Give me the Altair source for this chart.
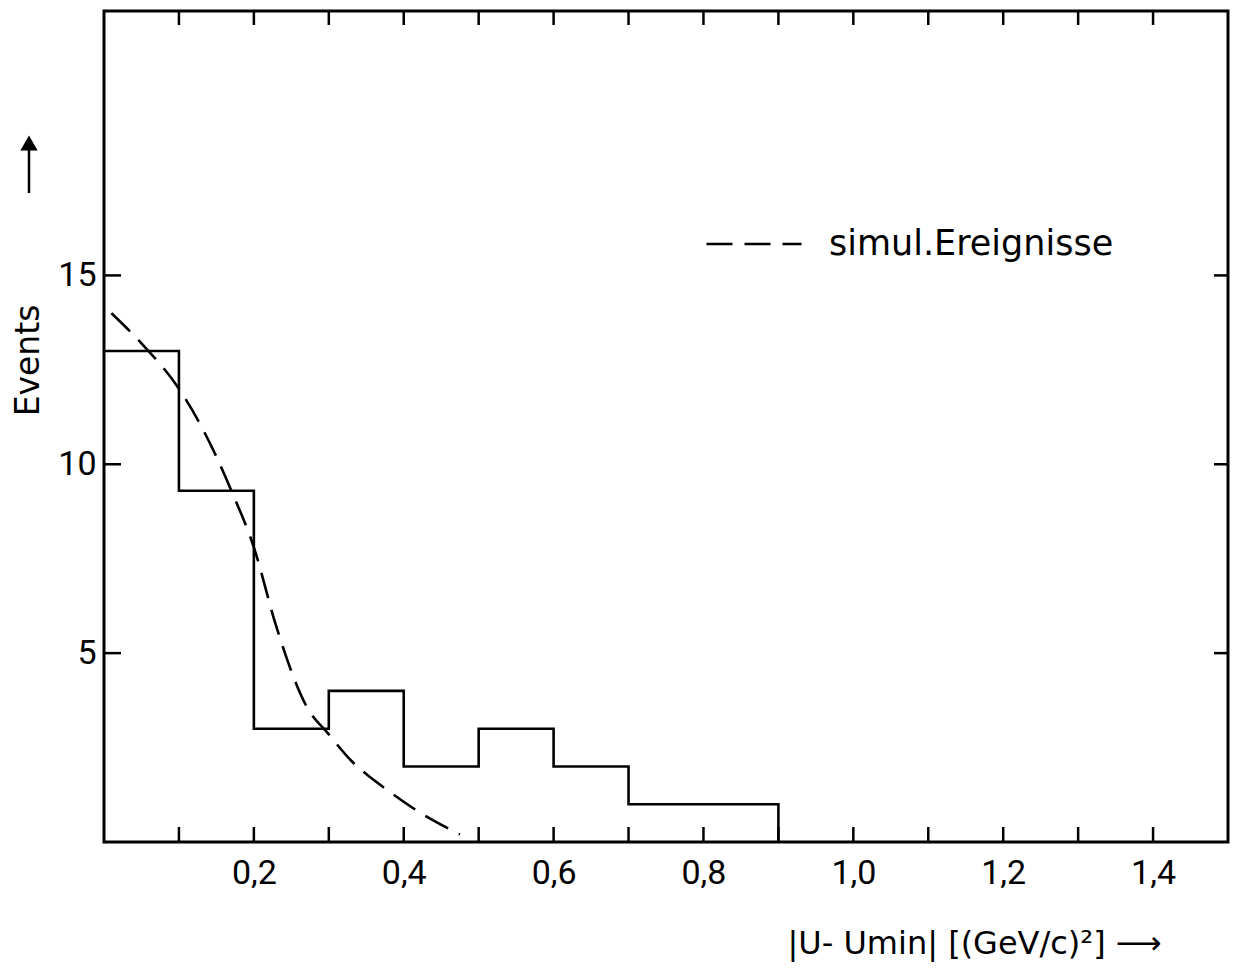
import altair as alt
import pandas as pd

# Histogram (bin left edges and event counts)
bin_edges = [0.0, 0.1, 0.2, 0.3, 0.4, 0.5, 0.6, 0.7, 0.8, 0.9]
counts = [13, 9.3, 3, 4, 2, 3, 2, 1, 1]

# Simulated events (dashed curve)
sim_x = [0.01, 0.05, 0.1, 0.13, 0.15, 0.17, 0.2, 0.23, 0.27, 0.3, 0.33, 0.355, 0.375, 0.42, 0.475]
sim_y = [14.0, 13.2, 12.0, 11.0, 10.2, 9.3, 7.8, 5.7, 3.6, 2.85, 2.15, 1.72, 1.42, 0.8, 0.2]

x_ticks = [0.1, 0.2, 0.3, 0.4, 0.5, 0.6, 0.7, 0.8, 0.9, 1.0, 1.1, 1.2, 1.3, 1.4]
x_labels = [0.2, 0.4, 0.6, 0.8, 1.0, 1.2, 1.4]
y_ticks = [5, 10, 15]

W, H = 1124, 831
FONT = "Roboto"
TFONT = "DejaVu Sans"

hist_df = pd.DataFrame({"x": bin_edges, "y": counts + [0]})
sim_df = pd.DataFrame({"x": sim_x, "y": sim_y, "series": ["simul.Ereignisse"] * len(sim_x)})
xt_df = pd.DataFrame({"t": x_ticks})
yt_df = pd.DataFrame({"t": y_ticks})

xscale = alt.Scale(domain=[0, 1.5], nice=False, zero=True)
yscale = alt.Scale(domain=[0, 22], nice=False, zero=True)

x_axis = alt.Axis(
    values=x_labels,
    labelExpr="replace(format(datum.value, '.1f'), '.', ',')",
    domain=False, ticks=False, grid=False,
    labelFontSize=34, labelFont=FONT, labelColor="black", labelPadding=14,
    title="|U- Umin| [(GeV/c)²]   ⟶",
    titleFontSize=32, titleFont=TFONT, titleFontWeight="normal", titleColor="black",
    titleAnchor="start", titleAlign="left", titleX=683, titleY=101, titleBaseline="middle",
)
y_axis = alt.Axis(
    values=y_ticks,
    domain=False, ticks=False, grid=False,
    labelFontSize=34, labelFont=FONT, labelColor="black", labelPadding=8,
    title="Events",
    titleFontSize=33, titleFont=TFONT, titleFontWeight="normal", titleColor="black",
    titleAngle=270, titleX=-76, titleY=349, titleAlign="center", titleBaseline="middle",
)

hist = alt.Chart(hist_df).mark_line(
    interpolate="step-after", color="black", strokeWidth=2.6
).encode(
    x=alt.X("x:Q", scale=xscale, axis=x_axis),
    y=alt.Y("y:Q", scale=yscale, axis=y_axis),
)

sim = alt.Chart(sim_df).mark_line(
    interpolate="monotone", color="black", strokeWidth=2.6
).encode(
    x=alt.X("x:Q", scale=xscale),
    y=alt.Y("y:Q", scale=yscale),
    strokeDash=alt.StrokeDash(
        "series:N",
        scale=alt.Scale(range=[[26, 12]]),
        legend=alt.Legend(
            title=None, orient="none", legendX=601, legendY=184,
            symbolType="stroke", symbolSize=9025, symbolStrokeWidth=2.6,
            symbolStrokeColor="black", symbolDash=[24, 11],
            labelFontSize=35, labelFont=TFONT, labelColor="black", labelOffset=26,
            labelLimit=0, padding=0,
        ),
    ),
)

tick_bottom = alt.Chart(xt_df).mark_rule(color="black", strokeWidth=2.5).encode(
    x=alt.X("t:Q", scale=xscale), y=alt.value(H), y2=alt.value(H - 15)
)
tick_top = alt.Chart(xt_df).mark_rule(color="black", strokeWidth=2.5).encode(
    x=alt.X("t:Q", scale=xscale), y=alt.value(0), y2=alt.value(14)
)
tick_left = alt.Chart(yt_df).mark_rule(color="black", strokeWidth=2.5).encode(
    y=alt.Y("t:Q", scale=yscale), x=alt.value(0), x2=alt.value(17)
)
tick_right = alt.Chart(yt_df).mark_rule(color="black", strokeWidth=2.5).encode(
    y=alt.Y("t:Q", scale=yscale), x=alt.value(W), x2=alt.value(W - 14)
)

arrow_df = alt.Data(values=[{}])
arrow_shaft = alt.Chart(arrow_df).mark_rule(color="black", strokeWidth=2.5).encode(
    x=alt.value(-75), y=alt.value(138), y2=alt.value(182)
)
arrow_head = alt.Chart(arrow_df).mark_point(
    shape="triangle-up", filled=True, color="black", size=300, opacity=1
).encode(x=alt.value(-75), y=alt.value(132))

chart = alt.layer(
    hist, sim, tick_bottom, tick_top, tick_left, tick_right, arrow_shaft, arrow_head
).properties(
    width=W, height=H,
    padding={"left": 96, "top": 3, "right": 2, "bottom": 122},
    autosize=alt.AutoSizeParams(type="none"),
    background="white",
).configure_view(
    stroke="black", strokeWidth=3
)

chart.save("out.html", embed_options={"renderer": "svg", "actions": False})
